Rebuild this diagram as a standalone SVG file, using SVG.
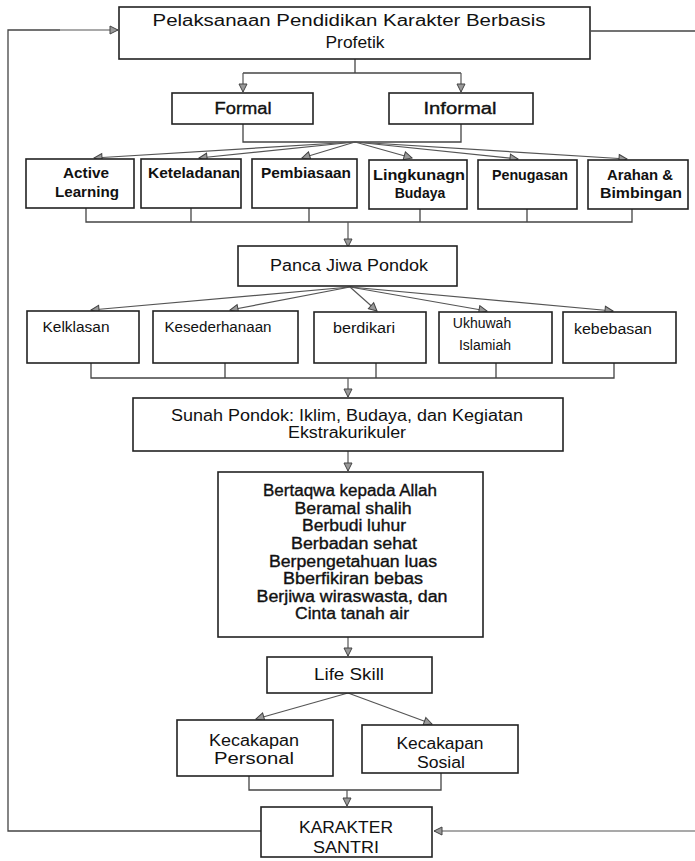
<svg xmlns="http://www.w3.org/2000/svg" width="695" height="861" viewBox="0 0 695 861">
<defs>
<marker id="ah" markerWidth="10" markerHeight="10" refX="9" refY="5" orient="auto" markerUnits="userSpaceOnUse">
<path d="M1,1 L9,5 L1,9 Z" fill="#999" stroke="#444" stroke-width="1"/>
</marker>
<style>
.box{fill:#fff;stroke:#222;stroke-width:1.6}
.ln{fill:none;stroke:#444;stroke-width:1.3}
.ar{fill:none;stroke:#555;stroke-width:1.2;marker-end:url(#ah)}
text{font-family:"Liberation Sans",Arial,sans-serif;fill:#111;text-anchor:middle}
.t16{font-size:16px}
.t15{font-size:15px}
.t14{font-size:14px}
.b14{font-size:14px;font-weight:bold}
.hv{stroke:#111;stroke-width:0.35}
</style>
</defs>
<rect width="695" height="861" fill="#fff"/>

<g id="connectors">
<polyline class="ln" points="261,831 8,831 8,30 60,30"/>
<line class="ar" x1="60" y1="30" x2="118" y2="30"/>
<line class="ln" x1="591" y1="31" x2="695" y2="31"/>
<line class="ar" x1="695" y1="831" x2="434" y2="831"/>
<polyline class="ln" points="355,59 355,73"/>
<polyline class="ln" points="243,73 461,73"/>
<line class="ar" x1="243" y1="73" x2="243" y2="92"/>
<line class="ar" x1="461" y1="73" x2="461" y2="92"/>
<polyline class="ln" points="243,124 243,142 461,142 461,124"/>
<line class="ar" x1="355" y1="142" x2="94" y2="158"/>
<line class="ar" x1="355" y1="142" x2="199" y2="158"/>
<line class="ar" x1="355" y1="142" x2="302" y2="158"/>
<line class="ar" x1="355" y1="142" x2="412" y2="158"/>
<line class="ar" x1="355" y1="142" x2="518" y2="159"/>
<line class="ar" x1="355" y1="142" x2="627" y2="159"/>
<polyline class="ln" points="86,208 86,222 632,222 632,209"/>
<line class="ln" x1="191" y1="208" x2="191" y2="222"/>
<line class="ln" x1="309" y1="208" x2="309" y2="222"/>
<line class="ln" x1="420" y1="209" x2="420" y2="222"/>
<line class="ln" x1="527" y1="209" x2="527" y2="222"/>
<line class="ar" x1="348" y1="222" x2="348" y2="247"/>
<line class="ar" x1="350" y1="287" x2="91" y2="310"/>
<line class="ar" x1="350" y1="287" x2="230" y2="310"/>
<line class="ar" x1="350" y1="287" x2="377" y2="311"/>
<line class="ar" x1="350" y1="287" x2="487" y2="311"/>
<line class="ar" x1="350" y1="287" x2="613" y2="311"/>
<polyline class="ln" points="91,363 91,378 614,378 614,363"/>
<line class="ln" x1="225" y1="363" x2="225" y2="378"/>
<line class="ln" x1="376" y1="363" x2="376" y2="378"/>
<line class="ln" x1="496" y1="363" x2="496" y2="378"/>
<line class="ar" x1="348" y1="378" x2="348" y2="397"/>
<line class="ar" x1="348" y1="451" x2="348" y2="471"/>
<line class="ar" x1="348" y1="637" x2="348" y2="656"/>
<line class="ar" x1="348" y1="693" x2="256" y2="719"/>
<line class="ar" x1="348" y1="693" x2="432" y2="724"/>
<polyline class="ln" points="249,776 249,790 441,790 441,773"/>
<line class="ar" x1="347" y1="790" x2="347" y2="806"/>
</g>

<g id="n-top">
<rect class="box" x="119" y="7" width="471" height="52"/>
<text class="t16" x="349" y="26" textLength="393" lengthAdjust="spacingAndGlyphs">Pelaksanaan Pendidikan Karakter Berbasis</text>
<text class="t16" x="355" y="48" textLength="59" lengthAdjust="spacingAndGlyphs">Profetik</text>
</g>
<g id="n-formal">
<rect class="box" x="172" y="93" width="141" height="31"/>
<text class="t16 hv" x="243" y="114" textLength="57" lengthAdjust="spacingAndGlyphs">Formal</text>
</g>
<g id="n-informal">
<rect class="box" x="389" y="93" width="144" height="31"/>
<text class="t16 hv" x="460" y="114" textLength="73" lengthAdjust="spacingAndGlyphs">Informal</text>
</g>

<g id="n-active">
<rect class="box" x="26" y="159" width="108" height="49"/>
<text class="b14" x="86" y="178" textLength="46" lengthAdjust="spacingAndGlyphs">Active</text>
<text class="b14" x="87" y="197" textLength="64" lengthAdjust="spacingAndGlyphs">Learning</text>
</g>
<g id="n-keteladanan">
<rect class="box" x="141" y="159" width="100" height="49"/>
<text class="b14" x="194" y="178" textLength="92" lengthAdjust="spacingAndGlyphs">Keteladanan</text>
</g>
<g id="n-pembiasaan">
<rect class="box" x="252" y="159" width="105" height="49"/>
<text class="b14" x="306" y="178" textLength="90" lengthAdjust="spacingAndGlyphs">Pembiasaan</text>
</g>
<g id="n-lingkungan">
<rect class="box" x="369" y="160" width="98" height="49"/>
<text class="b14" x="419" y="180" textLength="92" lengthAdjust="spacingAndGlyphs">Lingkunagn</text>
<text class="b14" x="420" y="198">Budaya</text>
</g>
<g id="n-penugasan">
<rect class="box" x="478" y="160" width="99" height="49"/>
<text class="b14" x="530" y="180" textLength="76" lengthAdjust="spacingAndGlyphs">Penugasan</text>
</g>
<g id="n-arahan">
<rect class="box" x="588" y="160" width="100" height="49"/>
<text class="b14" x="640" y="180" textLength="66" lengthAdjust="spacingAndGlyphs">Arahan &amp;</text>
<text class="b14" x="641" y="198" textLength="82" lengthAdjust="spacingAndGlyphs">Bimbingan</text>
</g>

<g id="n-panca">
<rect class="box" x="238" y="246" width="219" height="40"/>
<text class="t16" x="349" y="271" textLength="158" lengthAdjust="spacingAndGlyphs">Panca Jiwa Pondok</text>
</g>

<g id="n-kelklasan">
<rect class="box" x="27" y="311" width="112" height="52"/>
<text class="t14" x="76" y="332" textLength="67" lengthAdjust="spacingAndGlyphs">Kelklasan</text>
</g>
<g id="n-kesederhanaan">
<rect class="box" x="153" y="311" width="145" height="52"/>
<text class="t14" x="218" y="332" textLength="107" lengthAdjust="spacingAndGlyphs">Kesederhanaan</text>
</g>
<g id="n-berdikari">
<rect class="box" x="314" y="312" width="112" height="51"/>
<text class="t14" x="364" y="333" textLength="62" lengthAdjust="spacingAndGlyphs">berdikari</text>
</g>
<g id="n-ukhuwah">
<rect class="box" x="439" y="312" width="113" height="51"/>
<text class="t14" x="482" y="328">Ukhuwah</text>
<text class="t14" x="485" y="350">Islamiah</text>
</g>
<g id="n-kebebasan">
<rect class="box" x="563" y="312" width="113" height="51"/>
<text class="t14" x="613" y="334" textLength="78" lengthAdjust="spacingAndGlyphs">kebebasan</text>
</g>

<g id="n-sunah">
<rect class="box" x="133" y="398" width="430" height="53"/>
<text class="t16" x="347" y="421" textLength="352" lengthAdjust="spacingAndGlyphs">Sunah Pondok: Iklim, Budaya, dan Kegiatan</text>
<text class="t16" x="347" y="438" textLength="118" lengthAdjust="spacingAndGlyphs">Ekstrakurikuler</text>
</g>

<g id="n-nilai">
<rect class="box" x="218" y="472" width="265" height="165"/>
<text class="t16 hv" x="350" y="496" textLength="174" lengthAdjust="spacingAndGlyphs">Bertaqwa kepada Allah</text>
<text class="t16 hv" x="353" y="514" textLength="117" lengthAdjust="spacingAndGlyphs">Beramal shalih</text>
<text class="t16 hv" x="354" y="531" textLength="104" lengthAdjust="spacingAndGlyphs">Berbudi luhur</text>
<text class="t16 hv" x="354" y="549" textLength="126" lengthAdjust="spacingAndGlyphs">Berbadan sehat</text>
<text class="t16 hv" x="353" y="567" textLength="168" lengthAdjust="spacingAndGlyphs">Berpengetahuan luas</text>
<text class="t16 hv" x="353" y="584" textLength="140" lengthAdjust="spacingAndGlyphs">Bberfikiran bebas</text>
<text class="t16 hv" x="352" y="602" textLength="191" lengthAdjust="spacingAndGlyphs">Berjiwa wiraswasta, dan</text>
<text class="t16 hv" x="352" y="619" textLength="114" lengthAdjust="spacingAndGlyphs">Cinta tanah air</text>
</g>

<g id="n-lifeskill">
<rect class="box" x="267" y="657" width="165" height="36"/>
<text class="t16" x="349" y="680" textLength="70" lengthAdjust="spacingAndGlyphs">Life Skill</text>
</g>
<g id="n-personal">
<rect class="box" x="177" y="720" width="156" height="56"/>
<text class="t16" x="254" y="746" textLength="90" lengthAdjust="spacingAndGlyphs">Kecakapan</text>
<text class="t16" x="254" y="764" textLength="80" lengthAdjust="spacingAndGlyphs">Personal</text>
</g>
<g id="n-sosial">
<rect class="box" x="362" y="725" width="156" height="48"/>
<text class="t16" x="440" y="749" textLength="87" lengthAdjust="spacingAndGlyphs">Kecakapan</text>
<text class="t16" x="441" y="768" textLength="48" lengthAdjust="spacingAndGlyphs">Sosial</text>
</g>
<g id="n-karakter">
<rect class="box" x="261" y="807" width="171" height="50"/>
<text class="t16" x="346" y="833" textLength="94" lengthAdjust="spacingAndGlyphs">KARAKTER</text>
<text class="t16" x="346" y="853" textLength="66" lengthAdjust="spacingAndGlyphs">SANTRI</text>
</g>
</svg>
